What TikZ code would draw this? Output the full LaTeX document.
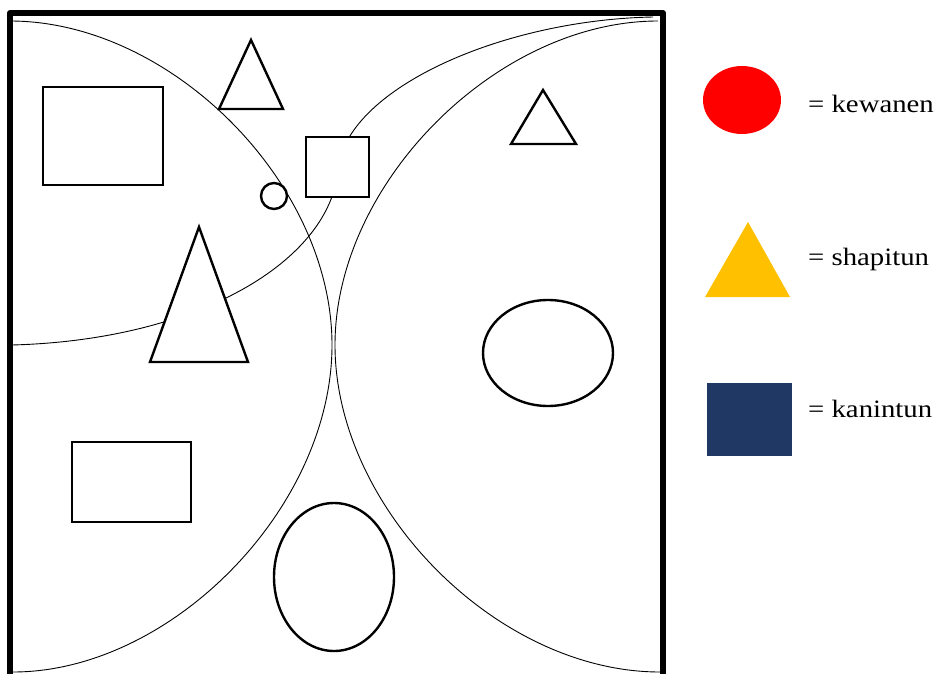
\documentclass[tikz,border=0pt]{standalone}
\usepackage{fontspec}
\setmainfont{Liberation Serif}
\newfontfamily\legendfont[FakeStretch=1.15]{Liberation Serif}
\usepackage{tikz}
\usetikzlibrary{calc}

\definecolor{kewanenred}{HTML}{FF0000}
\definecolor{shapitunorange}{HTML}{FFC000}
\definecolor{kanintunblue}{HTML}{203864}

\begin{document}
\begin{tikzpicture}[x=1pt,y=-1pt,
        regionline/.style={line width=0.9pt},
        shapeline/.style={draw,line width=2.4pt,fill=white},
        legendtext/.style={anchor=base west,inner sep=0pt,font=\legendfont\fontsize{25}{30}\selectfont}]
        \useasboundingbox (0,0) rectangle (939,674);
        % frame, open at the bottom
        \draw[line width=6pt,line join=round] (10,690) -- (10,13) -- (663,13) -- (663,690);
        % the three regions
        \draw[regionline] (10,21) .. controls (171,21) and (332,183) .. (332,345)
                .. controls (332,508) and (171,672) .. (13,672);
        \draw[regionline] (658,21) .. controls (497,21) and (335,183) .. (335,345)
                .. controls (335,508) and (497,672) .. (660,672);
        \draw[regionline] (12,345) .. controls (200,340) and (330,260) .. (338,170)
                .. controls (345,90) and (500,20) .. (653,17);
        % shapes inside the frame
        \draw[shapeline] (43,87) rectangle (163,185);
        \draw[shapeline] (251,40) -- (219,109) -- (283,109) -- cycle;
        \draw[shapeline] (274,196) circle (13pt);
        \draw[shapeline] (306,137) rectangle (369,197);
        \draw[shapeline] (543,90) -- (511,144) -- (576,144) -- cycle;
        \draw[shapeline] (199,227) -- (150,362) -- (248,362) -- cycle;
        \draw[shapeline] (548,353) ellipse (65pt and 53pt);
        \draw[shapeline] (72,442) rectangle (191,522);
        \draw[shapeline] (334,577) ellipse (60pt and 74pt);
        % legend
        \fill[kewanenred] (742,100) ellipse (39pt and 34pt);
        \fill[shapitunorange] (748,222) -- (705,297) -- (790,297) -- cycle;
        \fill[kanintunblue] (707,383) rectangle (792,456);
        \node[legendtext] (kewanen) at (808,113) {= kewanen};
        \node[legendtext] (shapitun) at (808,265) {= shapitun};
        \node[legendtext] (kanintun) at (808,417) {= kanintun};
\end{tikzpicture}
\end{document}
